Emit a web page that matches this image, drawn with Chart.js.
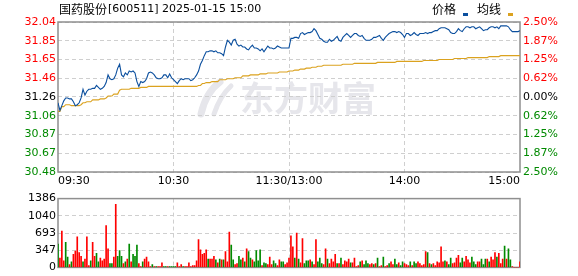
<!DOCTYPE html>
<html>
<head>
<meta charset="utf-8">
<script src="https://cdn.jsdelivr.net/npm/chart.js@4.4.1/dist/chart.umd.min.js"></script>
<style>
  html, body { margin: 0; padding: 0; background: #fff; }
  #wrap { position: relative; width: 578px; height: 276px; }
  #priceBox { position: absolute; left: 0; top: 0; width: 578px; height: 190px; }
  #volBox { position: absolute; left: 0; top: 190px; width: 578px; height: 86px; }
</style>
</head>
<body>
<div id="wrap">
  <div id="priceBox"><canvas id="priceChart"></canvas></div>
  <div id="volBox"><canvas id="volChart"></canvas></div>
</div>
<script>
// ------------- DATA -------------
const stockName = '国药股份';
const stockInfo = '[600511] 2025-01-15 15:00';
const prevClose = 31.26;

// minutes since open, 0..240 (lunch break folded at 120)
const timeTicks = [0, 60, 120, 180, 240];
const timeLabels = ['09:30', '10:30', '11:30/13:00', '14:00', '15:00'];

const priceTicks = [30.48, 30.675, 30.87, 31.065, 31.26, 31.455, 31.65, 31.845, 32.04];
const priceLabels = ['30.48', '30.67', '30.87', '31.06', '31.26', '31.46', '31.65', '31.85', '32.04'];
const pctLabels = ['2.50%', '1.87%', '1.25%', '0.62%', '0.00%', '0.62%', '1.25%', '1.87%', '2.50%'];

const volTicks = [0, 347, 693, 1040, 1386];
const volLabels = ['0', '347', '693', '1040', '1386'];

const prices = [
  31.20,31.12,31.17,31.22,31.25,31.25,31.24,31.24,31.21,31.17,
  31.18,31.20,31.25,31.34,31.28,31.32,31.34,31.34,31.35,31.35,
  31.38,31.36,31.34,31.35,31.37,31.41,31.49,31.45,31.44,31.45,
  31.49,31.56,31.60,31.49,31.47,31.51,31.49,31.53,31.52,31.53,
  31.51,31.42,31.37,31.42,31.41,31.42,31.45,31.51,31.52,31.51,
  31.49,31.46,31.45,31.45,31.46,31.49,31.49,31.46,31.50,31.46,
  31.44,31.42,31.40,31.43,31.45,31.44,31.45,31.45,31.45,31.43,
  31.44,31.46,31.49,31.53,31.60,31.64,31.69,31.73,31.73,31.74,
  31.74,31.73,31.74,31.72,31.72,31.71,31.69,31.78,31.85,31.83,
  31.80,31.85,31.86,31.81,31.79,31.80,31.78,31.78,31.76,31.75,
  31.78,31.80,31.77,31.77,31.76,31.74,31.76,31.73,31.76,31.79,
  31.77,31.77,31.76,31.77,31.79,31.78,31.77,31.77,31.77,31.77,
  31.77,31.87,31.87,31.88,31.88,31.87,31.92,31.93,31.91,31.92,
  31.93,31.93,31.94,31.97,31.95,31.91,31.87,31.86,31.84,31.83,
  31.83,31.86,31.84,31.85,31.87,31.89,31.85,31.84,31.88,31.90,
  31.92,31.90,31.88,31.90,31.92,31.92,31.90,31.89,31.90,31.87,
  31.85,31.85,31.85,31.86,31.88,31.88,31.89,31.90,31.87,31.85,
  31.88,31.90,31.92,31.93,31.94,31.94,31.93,31.94,31.93,31.91,
  31.88,31.92,31.92,31.90,31.91,31.93,31.91,31.90,31.92,31.92,
  31.92,31.93,31.92,31.93,31.93,31.94,31.95,31.95,31.97,31.98,
  31.98,31.98,31.97,31.96,31.93,31.92,31.92,31.94,31.97,31.95,
  31.94,31.97,31.99,31.99,31.98,31.99,31.99,31.97,31.98,31.99,
  31.97,31.95,31.96,31.96,31.98,31.99,31.99,31.98,31.99,31.97,
  32.00,32.00,32.00,32.00,31.99,31.96,31.94,31.94,31.94,31.94,31.95
];

const avgPrices = [
  31.11,31.11,31.16,31.16,31.18,31.18,31.18,31.17,31.17,31.17,
  31.17,31.17,31.18,31.20,31.20,31.21,31.21,31.21,31.23,31.23,
  31.23,31.23,31.24,31.24,31.24,31.25,31.27,31.27,31.27,31.29,
  31.29,31.29,31.33,31.34,31.34,31.34,31.34,31.34,31.35,31.35,
  31.35,31.35,31.35,31.36,31.36,31.36,31.36,31.37,31.37,31.37,
  31.37,31.37,31.37,31.37,31.37,31.37,31.37,31.37,31.37,31.37,
  31.37,31.37,31.37,31.37,31.37,31.37,31.37,31.37,31.37,31.37,
  31.37,31.37,31.37,31.38,31.38,31.40,31.40,31.41,31.41,31.41,
  31.42,31.42,31.42,31.42,31.44,31.44,31.44,31.44,31.45,31.45,
  31.45,31.45,31.46,31.46,31.46,31.46,31.48,31.48,31.48,31.48,
  31.49,31.49,31.49,31.49,31.49,31.50,31.50,31.50,31.50,31.51,
  31.51,31.51,31.51,31.51,31.51,31.52,31.52,31.52,31.52,31.52,
  31.53,31.53,31.53,31.54,31.54,31.54,31.55,31.55,31.55,31.56,
  31.56,31.56,31.57,31.57,31.57,31.58,31.58,31.58,31.59,31.59,
  31.59,31.59,31.59,31.59,31.59,31.59,31.59,31.59,31.60,31.60,
  31.60,31.60,31.60,31.60,31.61,31.61,31.61,31.61,31.61,31.61,
  31.61,31.61,31.61,31.61,31.61,31.61,31.62,31.62,31.62,31.62,
  31.62,31.62,31.62,31.62,31.62,31.62,31.63,31.63,31.63,31.63,
  31.63,31.63,31.63,31.63,31.63,31.63,31.63,31.63,31.63,31.63,
  31.64,31.64,31.64,31.64,31.64,31.64,31.64,31.64,31.65,31.65,
  31.65,31.65,31.65,31.65,31.65,31.65,31.66,31.66,31.66,31.66,
  31.66,31.66,31.66,31.67,31.67,31.67,31.67,31.67,31.67,31.67,
  31.67,31.67,31.67,31.67,31.68,31.68,31.68,31.68,31.68,31.68,
  31.69,31.69,31.69,31.69,31.69,31.69,31.69,31.69,31.69,31.69,31.69
];

const volumes = [
  468,187,730,131,505,206,56,112,262,331,
  618,300,225,112,168,618,37,131,505,225,
  281,112,187,131,168,842,374,75,75,206,
  1273,225,337,225,75,112,168,468,112,262,
  225,449,75,19,112,168,206,112,19,56,
  19,19,19,19,94,19,19,19,19,19,
  19,19,94,19,56,19,19,19,94,19,
  37,37,131,562,356,262,281,356,168,168,
  168,225,150,94,168,150,150,318,112,711,
  449,150,56,75,225,150,187,112,374,318,
  187,150,112,337,131,356,37,94,75,56,
  206,56,131,75,37,150,112,112,56,94,
  187,636,412,187,693,168,94,580,75,131,
  131,150,112,56,562,112,187,75,56,374,
  168,75,168,112,262,75,75,187,56,131,
  112,168,94,94,187,19,37,112,131,56,
  131,75,56,75,56,75,187,19,37,206,
  19,37,75,112,56,168,56,94,37,112,
  75,56,37,112,37,112,75,112,75,37,
  56,318,300,75,56,75,37,112,94,412,
  112,131,112,56,187,75,94,187,243,94,
  187,112,225,150,94,206,112,56,112,112,
  168,56,168,168,112,206,150,300,206,281,
  75,168,431,168,374,150,19,0,0,0,112
];

// r = up minute, g = down minute
const volSide = (
  'grrrggrgrr' + 'rrrgrrrgrr' + 'ggrrrrrggr' + 'rgggrgrgrg' +
  'ggrrgrrrrg' + 'rgrrrggrgg' + 'ggrrrgrrrr' + 'rrrrrrrrgr' +
  'rrgrgrgrrr' + 'ggrrggrgrg' + 'grggggrggr' + 'rrggrrggrr' +
  'rrrgrgrrgg' + 'grgrrgggrr' + 'grrrrgrgrr' + 'rrgrrrrgrg' +
  'ggrrgrgrrg' + 'rrgrrggrgg' + 'rrrgrggrrr' + 'rrgrgrrrrr' +
  'rgrggrrrrg' + 'grrrrgggrr' + 'gggrgrrrgr' + 'rrgrggrrrrr'
).split('');

// ------------- STYLE -------------
const FONT = '"DejaVu Sans", "Noto Sans CJK SC", sans-serif';
const CJK = '"Noto Sans CJK SC", sans-serif';
const BLUE = '#0b4f9e';
const GOLD = '#dba21f';
const RED = '#ff0000';
const GREEN = '#008a00';
const GRID = '#cfcfcf';
const FRAME = '#8f8f8f';

function sideColor(v){
  if (Math.abs(v - prevClose) < 1e-6) return '#000';
  return v > prevClose ? RED : GREEN;
}

// box round the plot area
const framePlugin = {
  id: 'frame',
  beforeDatasetsDraw(chart){
    const a = chart.chartArea, ctx = chart.ctx;
    ctx.save();
    ctx.strokeStyle = FRAME;
    ctx.lineWidth = 1.5;
    ctx.strokeRect(a.left, a.top, a.right - a.left, a.bottom - a.top);
    ctx.restore();
  }
};

// faint brand mark behind the grid
const watermarkPlugin = {
  id: 'watermark',
  beforeDraw(chart){
    const ctx = chart.ctx;
    ctx.save();
    ctx.strokeStyle = '#e6e6eb';
    ctx.lineCap = 'round';
    ctx.lineWidth = 7;
    ctx.beginPath();
    ctx.moveTo(201, 114);
    ctx.quadraticCurveTo(206, 92, 220, 82);
    ctx.stroke();
    ctx.lineWidth = 5;
    ctx.beginPath();
    ctx.moveTo(214, 114);
    ctx.quadraticCurveTo(220, 96, 231, 86);
    ctx.stroke();
    ctx.fillStyle = '#e6e6eb';
    ctx.font = 'bold 34px ' + CJK;
    ctx.textBaseline = 'middle';
    ctx.fillText('东方财富', 240, 98);
    ctx.restore();
  }
};

// title and legend line
const headerPlugin = {
  id: 'header',
  afterDraw(chart){
    const ctx = chart.ctx;
    ctx.save();
    ctx.fillStyle = '#000';
    ctx.textBaseline = 'middle';
    ctx.font = '12px ' + CJK;
    ctx.fillText(stockName, 59, 9);
    const w = ctx.measureText(stockName).width;
    ctx.font = '11px ' + FONT;
    ctx.fillText(stockInfo, 59 + w + 1, 9);

    ctx.font = '12px ' + CJK;
    ctx.fillText('价格', 432, 9);
    ctx.fillStyle = BLUE;
    ctx.fillRect(463, 13, 5, 3);
    ctx.fillStyle = '#000';
    ctx.fillText('均线', 477, 9);
    ctx.fillStyle = GOLD;
    ctx.fillRect(508, 13, 5, 3);
    ctx.restore();
  }
};

const tickFont = { family: FONT, size: 11 };
const dash = [4, 3];

// ------------- PRICE CHART -------------
new Chart(document.getElementById('priceChart'), {
  type: 'line',
  data: {
    datasets: [
      {
        label: '价格',
        data: prices.map((v, i) => ({ x: i, y: v })),
        borderColor: BLUE,
        borderWidth: 1.1,
        pointRadius: 0,
        tension: 0
      },
      {
        label: '均线',
        data: avgPrices.map((v, i) => ({ x: i, y: v })),
        borderColor: GOLD,
        borderWidth: 1.1,
        pointRadius: 0,
        tension: 0
      }
    ]
  },
  options: {
    animation: false,
    responsive: true,
    maintainAspectRatio: false,
    devicePixelRatio: 1,
    layout: { autoPadding: false, padding: { top: 22, left: 0, right: 0, bottom: 0 } },
    plugins: { legend: { display: false }, tooltip: { enabled: false } },
    scales: {
      x: {
        type: 'linear', min: 0, max: 240,
        afterBuildTicks: s => { s.ticks = timeTicks.map(v => ({ value: v })); },
        afterFit: s => { s.height = 18; },
        ticks: {
          align: 'inner', autoSkip: false, maxRotation: 0, padding: 3,
          color: '#000', font: tickFont,
          callback: (v, i) => timeLabels[i]
        },
        grid: {
          drawTicks: false, lineWidth: 1,
          color: c => (c.tick && (c.tick.value === 0 || c.tick.value === 240)) ? 'rgba(0,0,0,0)' : GRID
        },
        border: { display: false, dash: dash }
      },
      y: {
        position: 'left', min: priceTicks[0], max: priceTicks[priceTicks.length - 1],
        afterBuildTicks: s => { s.ticks = priceTicks.map(v => ({ value: v })); },
        afterFit: s => { s.width = 58; },
        ticks: {
          padding: 2, font: tickFont,
          color: c => sideColor(priceTicks[c.index]),
          callback: (v, i) => priceLabels[i]
        },
        grid: { drawTicks: false, lineWidth: 1, color: GRID },
        border: { display: false, dash: dash }
      },
      y2: {
        position: 'right', min: priceTicks[0], max: priceTicks[priceTicks.length - 1],
        afterBuildTicks: s => { s.ticks = priceTicks.map(v => ({ value: v })); },
        afterFit: s => { s.width = 58; },
        ticks: {
          padding: 3, font: tickFont,
          color: c => sideColor(priceTicks[c.index]),
          callback: (v, i) => pctLabels[i]
        },
        grid: { display: false, drawTicks: false },
        border: { display: false }
      }
    }
  },
  plugins: [watermarkPlugin, framePlugin, headerPlugin]
});

// ------------- VOLUME CHART -------------
new Chart(document.getElementById('volChart'), {
  type: 'bar',
  data: {
    datasets: [{
      label: '成交量',
      data: volumes.map((v, i) => ({ x: i, y: v })),
      backgroundColor: volSide.map(s => s === 'g' ? GREEN : RED),
      barThickness: 1,
      borderWidth: 0
    }]
  },
  options: {
    animation: false,
    responsive: true,
    maintainAspectRatio: false,
    devicePixelRatio: 1,
    layout: { autoPadding: false, padding: { top: 6, left: 0, right: 58, bottom: 0 } },
    plugins: { legend: { display: false }, tooltip: { enabled: false } },
    scales: {
      x: {
        type: 'linear', min: 0, max: 240, offset: false,
        afterBuildTicks: s => { s.ticks = [60, 120, 180].map(v => ({ value: v })); },
        afterFit: s => { s.height = 6; },
        ticks: { display: false },
        grid: { offset: false, drawTicks: false, lineWidth: 1, color: GRID },
        border: { display: false, dash: dash }
      },
      y: {
        min: 0, max: volTicks[volTicks.length - 1],
        afterBuildTicks: s => { s.ticks = volTicks.map(v => ({ value: v })); },
        afterFit: s => { s.width = 58; },
        ticks: { padding: 2, color: '#000', font: tickFont, callback: (v, i) => volLabels[i] },
        grid: { drawTicks: false, lineWidth: 1, color: GRID },
        border: { display: false, dash: dash }
      }
    }
  },
  plugins: [framePlugin]
});
</script>
</body>
</html>
